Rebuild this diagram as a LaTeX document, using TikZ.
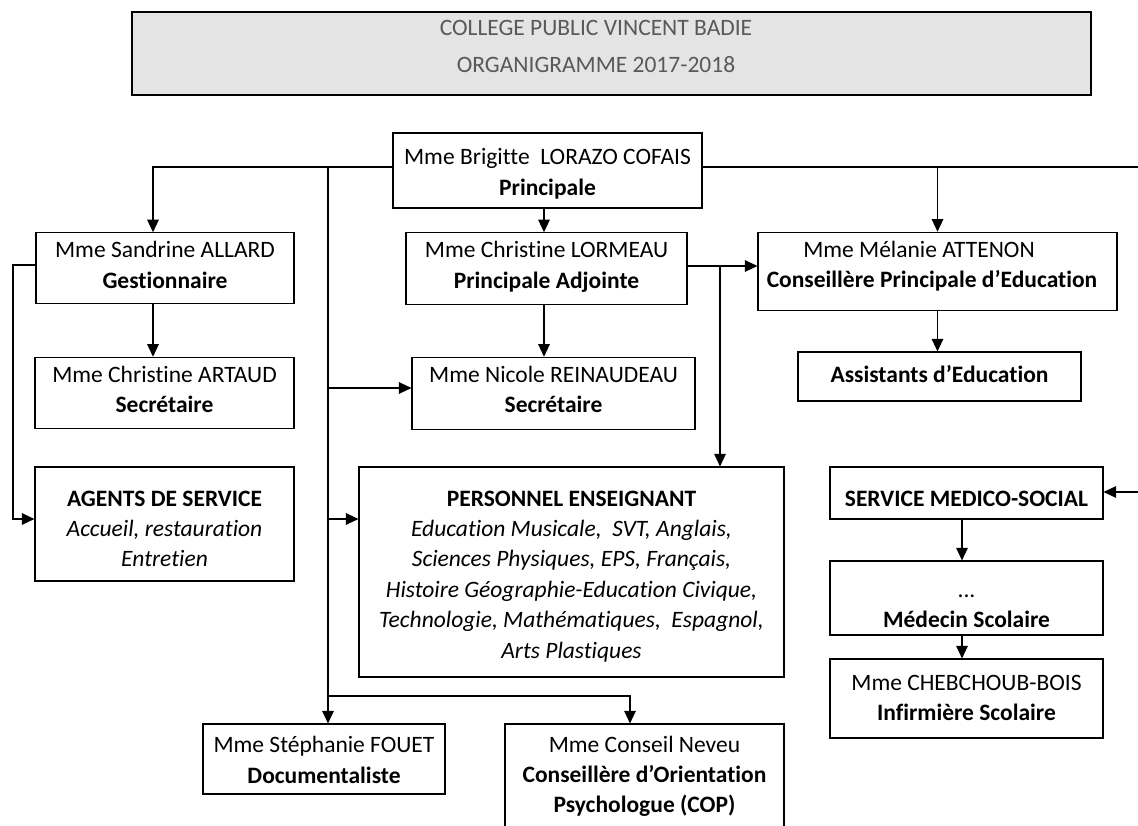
\documentclass[tikz,border=0pt]{standalone}
\usepackage{fontspec}
\setmainfont{Carlito}[Ligatures={TeX,NoCommon}]
\usepackage{tikz}
\usetikzlibrary{arrows.meta}

\definecolor{titlefill}{HTML}{E4E4E4}
\definecolor{titlegray}{HTML}{595959}
% invisible struts to set the text block inside a box
\newcommand{\toppad}[1]{\rule{0pt}{#1pt}}
\newcommand{\botpad}[1]{\rule[-#1pt]{0pt}{#1pt}}

\begin{document}
\begin{tikzpicture}[x=1pt,y=-1pt,
    box/.style={draw,line width=1.1pt,inner sep=0pt,align=center,
      font=\fontsize{23.5}{30.4}\selectfont},
    arr/.style={-{Triangle[length=12.5pt,width=11.5pt]},line width=1.1pt},
    link/.style={line width=1.1pt}]
\useasboundingbox (0,0) rectangle (1138,826);
\clip (0,0) rectangle (1138,826);

% title
\node[box,fill=titlefill,minimum width=959pt,minimum height=83pt] (title) at (611.5,53.5) {};
\node[inner sep=0pt,align=center,text=titlegray,font=\fontsize{23.5}{30.4}\selectfont] (titletext) at (596,42)
  {\toppad{25}COLLEGE PUBLIC VINCENT BADIE\\[6.6pt] ORGANIGRAMME 2017-2018};

% direction
\node[box,minimum width=309pt,minimum height=75pt] (pr) at (547.5,170.5)
  {\toppad{25}Mme Brigitte\ \ LORAZO COFAIS\\ \textbf{Principale}\botpad{6}};
\node[box,minimum width=258pt,minimum height=64pt] (gest) at (165,268)
  {\toppad{25}Mme Sandrine ALLARD\\ \textbf{Gestionnaire}\botpad{15}};
\node[box,minimum width=281pt,minimum height=63pt] (lorm) at (546.5,268.5)
  {\toppad{25}Mme Christine LORMEAU\\ \textbf{Principale Adjointe}\botpad{16}};
\node[box,minimum width=359pt,minimum height=71pt] (cpe) at (937.5,271.5)
  {\toppad{25}Mme Mélanie ATTENON\rule{37pt}{0pt}\\ \textbf{Conseillère Principale d’Education}\rule{11pt}{0pt}\botpad{23}};

% secretariats and services
\node[box,minimum width=259pt,minimum height=68pt] (artaud) at (164.5,393)
  {\toppad{25}Mme Christine ARTAUD\\ \textbf{Secrétaire}\botpad{16}};
\node[box,minimum width=283pt,minimum height=67pt] (reinaud) at (553.5,393.5)
  {\toppad{25}Mme Nicole REINAUDEAU\\ \textbf{Secrétaire}\botpad{17}};
\node[box,minimum width=283pt,minimum height=49pt] (assist) at (939.5,376.5)
  {\toppad{25}\textbf{Assistants d’Education}\botpad{14}};
\node[box,minimum width=259pt,minimum height=114pt] (agents) at (164.5,524)
  {\toppad{25}\textbf{AGENTS DE SERVICE}\\ \textit{Accueil, restauration}\\ \textit{Entretien}};
\node[box,minimum width=425pt,minimum height=210pt] (profs) at (571.5,572)
  {\toppad{25}\textbf{PERSONNEL ENSEIGNANT}\\
   \textit{Education Musicale,\ \ SVT, Anglais,}\\
   \textit{Sciences Physiques, EPS, Français,}\\
   \textit{Histoire Géographie-Education Civique,}\\
   \textit{Technologie, Mathématiques,\ \ Espagnol,}\\
   \textit{Arts Plastiques}\botpad{5}};

% medico-social
\node[box,minimum width=273pt,minimum height=52pt] (medico) at (966.5,493)
  {\toppad{27}\textbf{SERVICE MEDICO-SOCIAL}\botpad{1}};
\node[box,minimum width=273pt,minimum height=74pt] (medecin) at (966.5,598)
  {\toppad{29}...\\ \textbf{Médecin Scolaire}};
\node[box,minimum width=273pt,minimum height=79pt] (infirm) at (966.5,698.5)
  {\toppad{25}Mme CHEBCHOUB-BOIS\\ \textbf{Infirmière Scolaire}\botpad{11}};

% bottom row
\node[box,minimum width=242pt,minimum height=70pt] (docu) at (324,759)
  {\toppad{25}Mme Stéphanie FOUET\\ \textbf{Documentaliste}\botpad{7}};
\node[box,minimum width=279pt,minimum height=121pt] (cop) at (644.5,784.5)
  {\toppad{25}Mme Conseil Neveu\\ \textbf{Conseillère d’Orientation}\\ \textbf{Psychologue (COP)}\botpad{29}};

% connectors
\coordinate (trunk) at (328,167);
\draw[arr] ([yshift=3.5pt]pr.west) -| ([xshift=-12pt]gest.north);
\draw[link] ([yshift=3.5pt]pr.east) -- (1140,167);
\draw[arr] (cpe.north |- 0,167) -- (cpe.north);
\draw[arr] (trunk) -- (trunk |- docu.north);
\draw[arr] (328,388) -- (reinaud.west |- 0,388);
\draw[arr] (328,519) -- (profs.west |- 0,519);
\draw[arr] (328,696) -| ([xshift=-14.5pt]cop.north);
\draw[arr] (pr.south -| 544,0) -- (lorm.north -| 544,0);
\draw[arr] (lorm.south -| 544,0) -- (reinaud.north -| 544,0);
\draw[arr] (lorm.east |- 0,266) -- (cpe.west |- 0,266);
\draw[arr] (720,266) -- (profs.north -| 720,0);
\draw[arr] (cpe.south) -- (cpe.south |- assist.north);
\draw[arr] ([xshift=-12pt]gest.south) -- ([xshift=-12pt]gest.south |- artaud.north);
\draw[arr] (gest.west |- 0,265) -| (13,519) -- (agents.west |- 0,519);
\draw[arr] (1140,492) -- (medico.east |- 0,492);
\draw[arr] (medico.south -| 962,0) -- (medecin.north -| 962,0);
\draw[arr] (medecin.south -| 962,0) -- (infirm.north -| 962,0);
\end{tikzpicture}
\end{document}
